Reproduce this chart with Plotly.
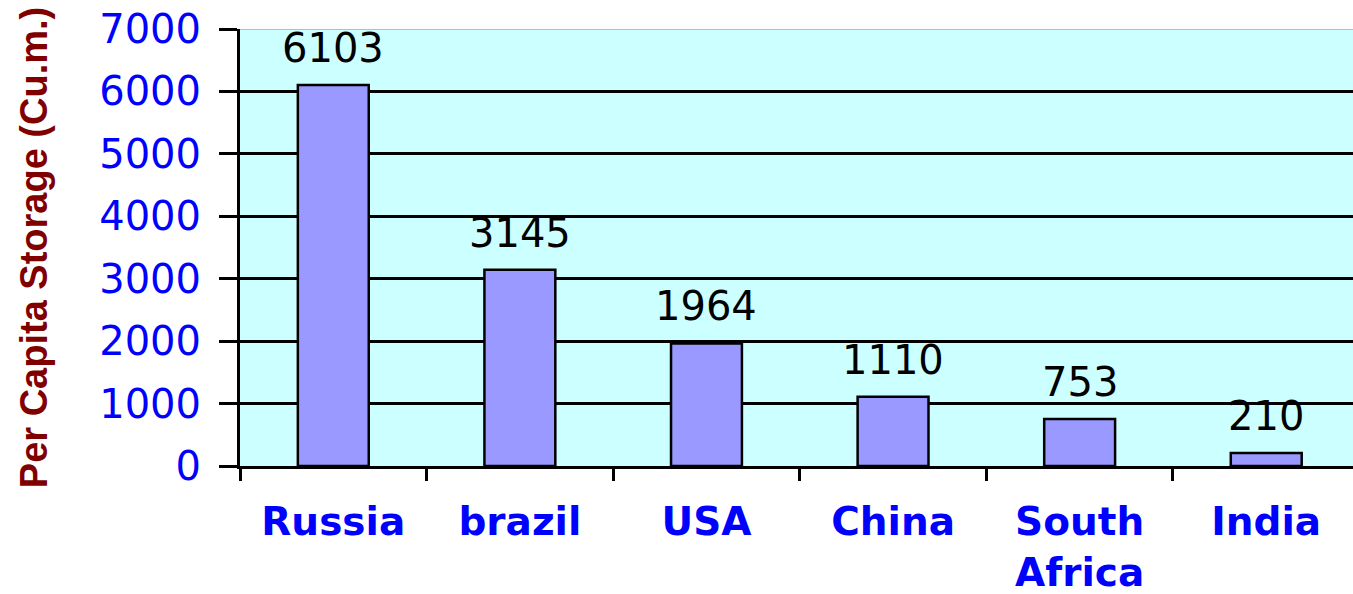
import plotly.graph_objects as go

countries = ["Russia", "brazil", "USA", "China", "South<br>Africa", "India"]
storage = [6103, 3145, 1964, 1110, 753, 210]
y_ticks = [0, 1000, 2000, 3000, 4000, 5000, 6000, 7000]

NUM_FONT = "DejaVu Sans, Liberation Sans, Arial"

fig = go.Figure()
fig.add_trace(go.Bar(
    x=countries, y=storage,
    marker=dict(color="#9999FF", line=dict(color="black", width=2.5)),
    width=0.38,
))

for c, v in zip(countries, storage):
    fig.add_annotation(x=c, y=v, text=str(v), showarrow=False,
                       yanchor="middle", yshift=37,
                       font=dict(family=NUM_FONT, size=40, color="black"))

fig.add_shape(type="line", xref="paper", yref="y", x0=0, x1=1, y0=7000, y1=7000,
              line=dict(color="#BBBBBB", width=2), layer="above")

fig.update_layout(
    width=1353, height=594,
    margin=dict(l=240, r=0, t=29, b=128, autoexpand=False),
    paper_bgcolor="white", plot_bgcolor="#CCFFFF",
    showlegend=False,
    font=dict(family=NUM_FONT),
)
fig.update_xaxes(
    range=[-0.5, 5.465], automargin=False,
    tickson="boundaries", ticks="outside", ticklen=12, tickwidth=3, tickcolor="black",
    showline=True, linecolor="black", linewidth=3,
    showgrid=False,
    tickfont=dict(family=NUM_FONT, size=39, color="#0000FF", weight="bold"),
    ticklabelstandoff=19,
)
fig.update_yaxes(
    range=[0, 7000], tickvals=y_ticks, automargin=False,
    ticks="outside", ticklen=18, tickwidth=3, tickcolor="black",
    showline=True, linecolor="black", linewidth=3,
    showgrid=True, gridcolor="black", gridwidth=2.5,
    zeroline=False,
    tickfont=dict(family=NUM_FONT, size=40, color="#0000FF"),
    ticklabelstandoff=10, ticklabeloverflow="allow",
    title=dict(text="<b>Per Capita Storage (Cu.m.)</b>",
               font=dict(family="Liberation Sans, Arial", size=38, color="#800000"),
               standoff=40),
)

fig.write_html("out.html",
               config={"displayModeBar": False},
               post_script="document.body.style.margin='0px';document.body.style.overflow='hidden';")
